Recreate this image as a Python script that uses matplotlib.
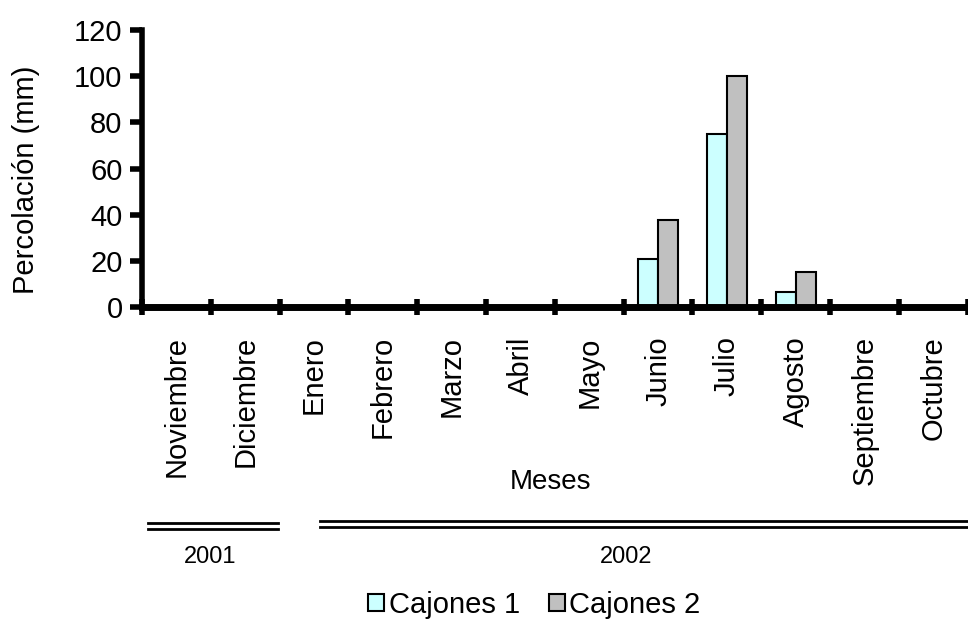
import matplotlib
matplotlib.use('Agg')
import matplotlib.pyplot as plt
import matplotlib.transforms as mtransforms
from matplotlib.lines import Line2D
import numpy as np

plt.rcParams['font.family'] = ['Liberation Sans', 'DejaVu Sans']

meses = ['Noviembre', 'Diciembre', 'Enero', 'Febrero', 'Marzo', 'Abril',
         'Mayo', 'Junio', 'Julio', 'Agosto', 'Septiembre', 'Octubre']
cajones1 = [0, 0, 0, 0, 0, 0, 0, 21, 75, 6.5, 0, 0]
cajones2 = [0, 0, 0, 0, 0, 0, 0, 37.5, 100, 15, 0, 0]
yticks = [0, 20, 40, 60, 80, 100, 120]

fig = plt.figure(figsize=(9.68, 6.19), dpi=100)
ax = fig.add_axes([0.1467, 0.504, 0.853, 0.4475])

x = np.arange(len(meses))
w = 0.29
ax.bar(x - w / 2, cajones1, w, color='#ccffff', edgecolor='black', linewidth=1.5,
       label='Cajones 1', zorder=2)
ax.bar(x + w / 2, cajones2, w, color='#c0c0c0', edgecolor='black', linewidth=1.5,
       label='Cajones 2', zorder=2)

ax.set_xlim(-0.5, 11.5)
ax.set_ylim(0, 120)
ax.set_yticks(yticks)
ax.tick_params(axis='y', labelsize=21, width=4, length=9, direction='out', pad=5)

# ticks at category boundaries, labels at centers
ax.set_xticks(np.arange(-0.5, 12, 1.0))
ax.set_xticklabels([])
ax.tick_params(axis='x', which='major', width=4, length=11, direction='inout')
ax.set_xticks(x, minor=True)
ax.set_xticklabels(meses, minor=True, rotation=90, fontsize=21, va='top', ha='center')
ax.tick_params(axis='x', which='minor', length=0, pad=21)

for s in ['top', 'right']:
    ax.spines[s].set_visible(False)
ax.spines['left'].set_linewidth(4)
ax.spines['bottom'].set_linewidth(5)
ax.spines['bottom'].set_zorder(3)

ax.set_ylabel('Percolación (mm)', fontsize=21)
ax.yaxis.set_label_coords(-0.123, 0.458)

trans = mtransforms.blended_transform_factory(ax.transData, fig.transFigure)
ax.text(5.44, 0.221, 'Meses', transform=trans, fontsize=20, ha='center', va='center')

# year brackets (double lines)
for x0, x1, y0 in [(-0.41, 1.47, 1 - 523 / 619), (2.08, 11.5, 1 - 521 / 619)]:
    for dy in [0, -6 / 619]:
        ax.add_line(Line2D([x0, x1], [y0 + dy, y0 + dy], transform=trans,
                           color='black', linewidth=2, clip_on=False))
ax.text(0.49, 0.10, '2001', transform=trans, fontsize=17, ha='center', va='center')
ax.text(6.53, 0.10, '2002', transform=trans, fontsize=17, ha='center', va='center')

fig.legend(loc='center', bbox_to_anchor=(0.552, 0.023), ncol=2, frameon=False,
           fontsize=21, handlelength=0.55, handleheight=0.55, handletextpad=0.15,
           columnspacing=1.0, borderpad=0)

fig.savefig('out.png', dpi=100)
